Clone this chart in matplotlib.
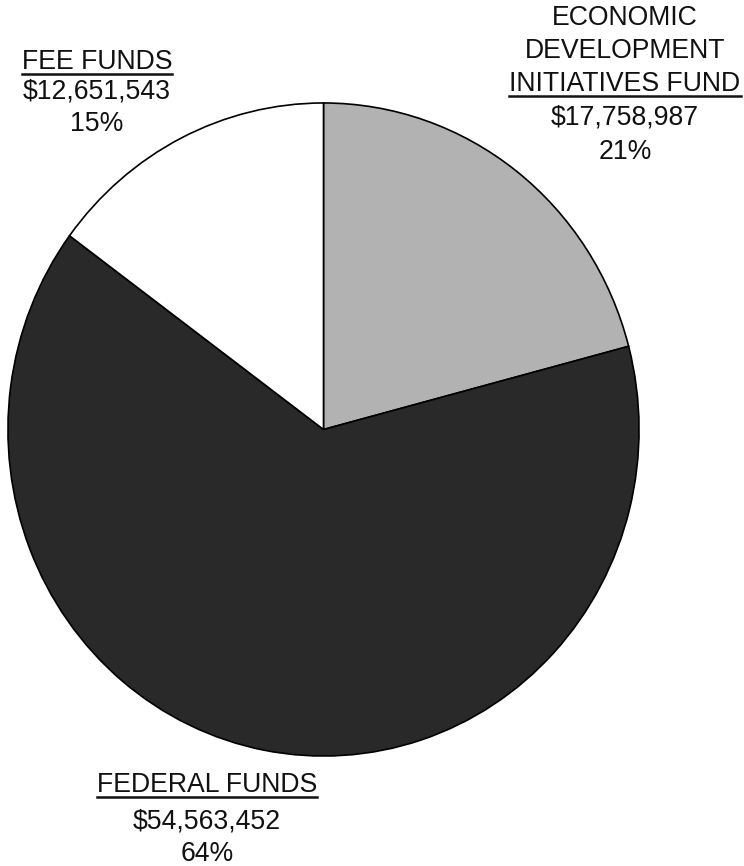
import matplotlib
matplotlib.use('Agg')
import matplotlib.pyplot as plt

labels = ['ECONOMIC\nDEVELOPMENT\nINITIATIVES FUND', 'FEDERAL FUNDS', 'FEE FUNDS']
amounts = [17758987, 54563452, 12651543]
percents = ['21%', '64%', '15%']
colors = ['#b2b2b2', '#292929', '#ffffff']

plt.rcParams['font.family'] = ['Liberation Sans', 'DejaVu Sans']

W, H = 744, 866
fig = plt.figure(figsize=(W / 100, H / 100), dpi=100)

# pie axes sized to the (slightly oval) scanned pie
left, right, top, bottom = 7, 640, 102, 757
pax = fig.add_axes([left / W, (H - bottom) / H, (right - left) / W, (bottom - top) / H])
pax.pie(amounts, colors=colors, startangle=90, counterclock=False,
        wedgeprops=dict(edgecolor='black', linewidth=1.2))
pax.set_aspect('auto')
pax.set_xlim(-1.003, 1.003)
pax.set_ylim(-1.003, 1.003)

# overlay axes in pixel coords for labels
ax = fig.add_axes([0, 0, 1, 1])
ax.set_xlim(0, W)
ax.set_ylim(H, 0)
ax.axis('off')

fs = 19.2
blocks = [
    (625, [18, 51, 84, 118, 152], ['ECONOMIC', 'DEVELOPMENT', 'INITIATIVES FUND'], 2),
    (207, [785, 821, 854], ['FEDERAL FUNDS'], 0),
    (97, [62, 92, 124], ['FEE FUNDS'], 0),
]

fig.canvas.draw()
renderer = fig.canvas.get_renderer()
for i, (cx, ys, name_lines, ul) in enumerate(blocks):
    lines = name_lines + ['${:,}'.format(amounts[i]), percents[i]]
    for j, (txt, y) in enumerate(zip(lines, ys)):
        t = ax.text(cx, y, txt, ha='center', va='center', fontsize=fs, color='#111111')
        if j == ul:
            bb = t.get_window_extent(renderer)
            yb = H - bb.y0 - 1
            ax.plot([bb.x0, bb.x1], [yb, yb], color='#111111', linewidth=1.8)

fig.savefig('out.png', dpi=100)
